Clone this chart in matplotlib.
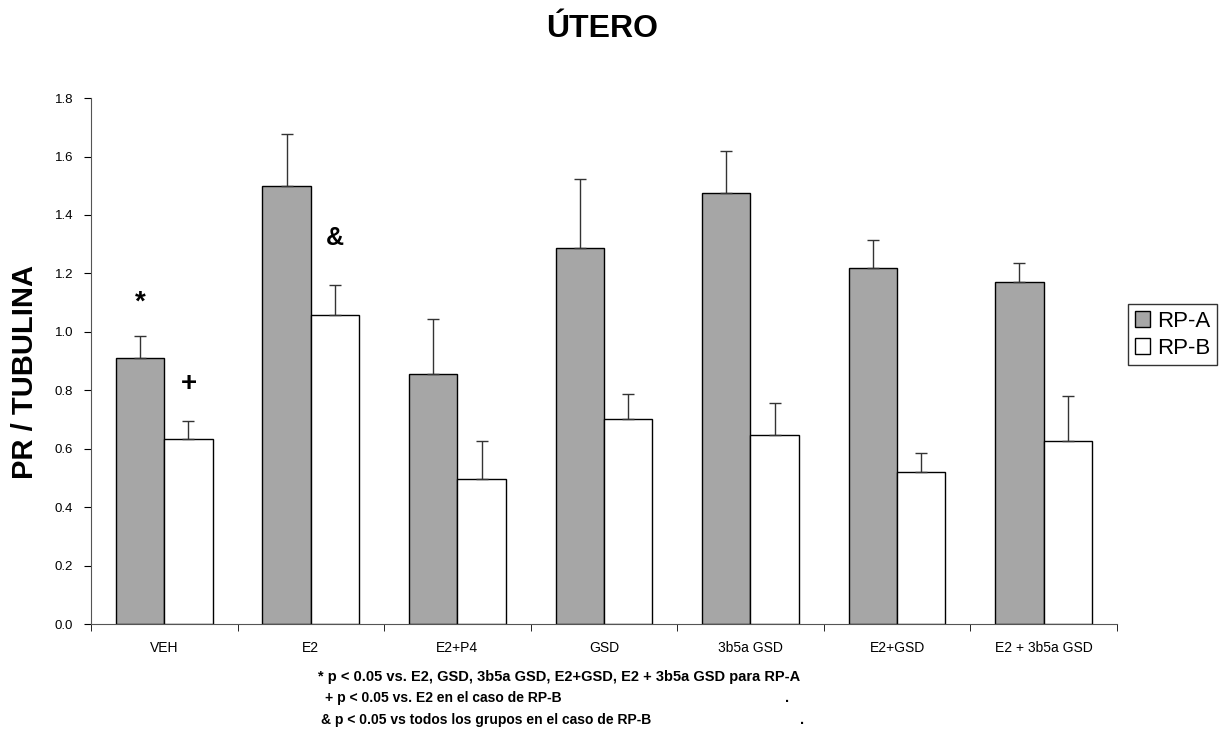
import matplotlib
matplotlib.use('Agg')
import matplotlib.pyplot as plt
import numpy as np

plt.rcParams['font.family'] = ['Liberation Sans', 'DejaVu Sans']

groups = ['VEH', 'E2', 'E2+P4', 'GSD', '3b5a GSD', 'E2+GSD', 'E2 + 3b5a GSD']
rp_a = [0.91, 1.50, 0.855, 1.287, 1.475, 1.22, 1.172]
rp_a_err = [0.075, 0.177, 0.19, 0.237, 0.143, 0.094, 0.063]
rp_b = [0.633, 1.058, 0.498, 0.703, 0.647, 0.52, 0.626]
rp_b_err = [0.061, 0.101, 0.128, 0.084, 0.108, 0.067, 0.155]

fig = plt.figure(figsize=(12.27, 7.32), dpi=100)
ax = fig.add_axes([0.0742, 0.1475, 0.836, 0.7185])

x = np.arange(len(groups))
w = 0.33
ax.bar(x - w / 2, rp_a, w, color='#a6a6a6', edgecolor='black', linewidth=1, label='RP-A',
       yerr=[np.zeros(len(x)), rp_a_err], error_kw=dict(ecolor='#333333', elinewidth=1, capsize=4, capthick=1))
ax.bar(x + w / 2, rp_b, w, color='white', edgecolor='black', linewidth=1, label='RP-B',
       yerr=[np.zeros(len(x)), rp_b_err], error_kw=dict(ecolor='#333333', elinewidth=1, capsize=4, capthick=1))

# significance marks
ax.text(0 - w / 2, 1.10, '*', ha='center', va='center', fontsize=20, fontweight='bold')
ax.text(0 + w / 2, 0.82, '+', ha='center', va='center', fontsize=20, fontweight='bold')
ax.text(1 + w / 2, 1.32, '&', ha='center', va='center', fontsize=18, fontweight='bold')

ax.set_xlim(-0.5, 6.5)
ax.set_ylim(0, 1.8)
ax.set_yticks(np.arange(0, 1.81, 0.2))
ax.set_yticklabels(['%.1f' % v for v in np.arange(0, 1.81, 0.2)], fontsize=9.5)
ax.set_xticks(x)
ax.set_xticklabels(groups, fontsize=10)
ax.tick_params(axis='x', length=0, pad=12)
ax.set_xticks(np.arange(-0.5, 7, 1), minor=True)
ax.tick_params(axis='x', which='minor', length=5, direction='out')
ax.tick_params(axis='y', length=5, direction='out', pad=8)
for s in ['top', 'right']:
    ax.spines[s].set_visible(False)
for s in ['left', 'bottom']:
    ax.spines[s].set_color('#555555')

ax.set_ylabel('PR / TUBULINA', fontsize=21, fontweight='bold')
ax.yaxis.set_label_coords(-0.051, 0.48)
fig.text(0.491, 0.96, 'ÚTERO', ha='center', va='center', fontsize=23, fontweight='bold')

leg = ax.legend(loc='center left', bbox_to_anchor=(1.011, 0.55), fontsize=16, frameon=True,
                fancybox=False, edgecolor='black', handlelength=0.7, handleheight=0.7,
                handletextpad=0.3, borderpad=0.3, labelspacing=0.25, borderaxespad=0)
leg.get_frame().set_linewidth(1)

fig.text(0.259, 0.075, '* p < 0.05 vs. E2, GSD, 3b5a GSD, E2+GSD, E2 + 3b5a GSD para RP-A',
         fontsize=10.5, fontweight='bold', va='center')
fig.text(0.265, 0.046, '+ p < 0.05 vs. E2 en el caso de RP-B', fontsize=10, fontweight='bold', va='center')
fig.text(0.262, 0.017, '& p < 0.05 vs todos los grupos en el caso de RP-B', fontsize=10,
         fontweight='bold', va='center')
fig.text(0.640, 0.046, '.', fontsize=10.5, fontweight='bold', va='center')
fig.text(0.652, 0.017, '.', fontsize=10.5, fontweight='bold', va='center')

fig.savefig('out.png', dpi=100)
